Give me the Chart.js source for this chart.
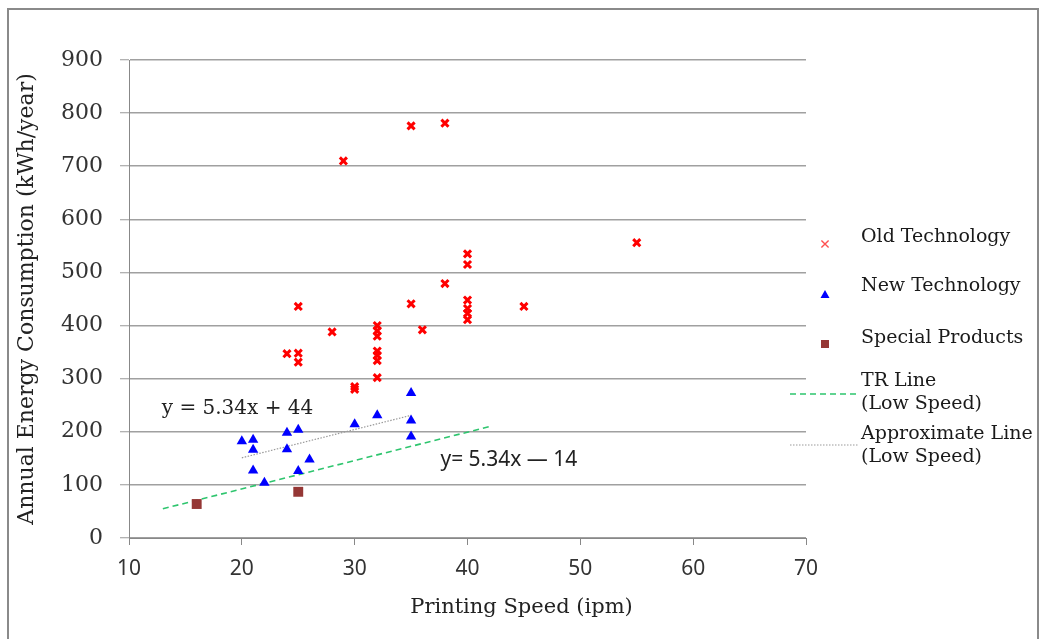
<!DOCTYPE html>
<html>
<head>
<meta charset="utf-8">
<script src="https://cdn.jsdelivr.net/npm/chart.js@4/dist/chart.umd.min.js"></script>
<style>
  html, body { margin: 0; padding: 0; background: #fff; }
  #wrap { position: relative; width: 1043px; height: 639px; overflow: hidden; }
  #frame { position: absolute; left: 7px; top: 8px; width: 1032px; height: 700px; border: 2px solid #8a8a8a; box-sizing: border-box; }
  canvas { position: absolute; left: 0; top: 0; }
</style>
</head>
<body>
<div id="wrap">
  <div id="frame"></div>
  <canvas id="c" width="1043" height="639"></canvas>
</div>
<script>
// ---- Data ----
const xTicks = [10, 20, 30, 40, 50, 60, 70];
const yTicks = [0, 100, 200, 300, 400, 500, 600, 700, 800, 900];

const oldTechSpeed = [29, 35, 38, 55, 40, 40, 38, 25, 35, 40, 40, 40, 40, 45, 28, 36, 24, 25, 25, 32, 32, 32, 32, 32, 32, 32, 30, 30];
const oldTechEnergy = [710, 776, 781, 556, 535, 515, 479, 436, 441, 448, 432, 423, 411, 436, 388, 392, 347, 348, 331, 400, 390, 380, 352, 344, 334, 302, 285, 280];

const newTechSpeed = [20, 21, 21, 21, 22, 24, 25, 24, 25, 26, 30, 32, 35, 35, 35];
const newTechEnergy = [182, 185, 166, 127, 104, 198, 204, 167, 126, 148, 214, 231, 273, 221, 191];

const specialSpeed = [16, 25];
const specialEnergy = [64, 87];

const trLineSpeed = [13, 42];
const trLineEnergy = [55, 210];

const approxLineSpeed = [20, 35];
const approxLineEnergy = [151, 231];

const seriesLabels = ['Old Technology', 'New Technology', 'Special Products', 'TR Line (Low Speed)', 'Approximate Line (Low Speed)'];
const legendLines = [['Old Technology'], ['New Technology'], ['Special Products'], ['TR Line', '(Low Speed)'], ['Approximate Line', '(Low Speed)']];

const equationTexts = ['y = 5.34x + 44', 'y= 5.34x \u2014 14'];
const equationAnchorX = [12.9, 37.6];
const equationAnchorY = [244, 146];

const xTitle = 'Printing Speed (ipm)';
const yTitle = 'Annual Energy Consumption (kWh/year)';

// ---- helpers ----
const pts = (xs, ys) => xs.map((x, i) => ({ x: x, y: ys[i] }));

const SERIF = "'DejaVu Serif', serif";
const SANS = "'Noto Sans', 'DejaVu Sans', sans-serif";

// Custom legend drawn at right side
const legendPlugin = {
  id: 'customLegend',
  afterDraw(chart) {
    const ctx = chart.ctx;
    const markerX = 825, textX = 861;
    const rows = [
      { marker: 244, text: [237] },
      { marker: 295, text: [286] },
      { marker: 344, text: [338] },
      { marker: 394, text: [381, 404] },
      { marker: 445, text: [434, 457] }
    ];
    ctx.save();
    ctx.font = '19px ' + SERIF;
    ctx.fillStyle = '#1a1a1a';
    ctx.textBaseline = 'middle';
    ctx.textAlign = 'left';
    rows.forEach((r, i) => {
      const ds = chart.data.datasets[i];
      legendLines[i].forEach((t, j) => ctx.fillText(t, textX, r.text[j]));
      const y = r.marker;
      ctx.save();
      if (ds.showLine) {
        ctx.strokeStyle = ds.borderColor;
        ctx.lineWidth = ds.borderWidth;
        ctx.setLineDash(ds.borderDash || []);
        ctx.beginPath();
        ctx.moveTo(790, y);
        ctx.lineTo(858, y);
        ctx.stroke();
      } else if (ds.pointStyle === 'crossRot') {
        ctx.strokeStyle = '#ff5050';
        ctx.lineWidth = 1.4;
        const s = 3.6;
        ctx.beginPath();
        ctx.moveTo(markerX - s, y - s); ctx.lineTo(markerX + s, y + s);
        ctx.moveTo(markerX + s, y - s); ctx.lineTo(markerX - s, y + s);
        ctx.stroke();
      } else if (ds.pointStyle === 'triangle') {
        ctx.fillStyle = ds.backgroundColor;
        ctx.beginPath();
        ctx.moveTo(markerX, y - 5);
        ctx.lineTo(markerX + 4.5, y + 3);
        ctx.lineTo(markerX - 4.5, y + 3);
        ctx.closePath();
        ctx.fill();
      } else if (ds.pointStyle === 'rect') {
        ctx.fillStyle = ds.backgroundColor;
        ctx.fillRect(markerX - 4, y - 4, 8, 8);
      }
      ctx.restore();
    });
    ctx.restore();
  }
};

// Equation labels placed through the chart scales
const equationPlugin = {
  id: 'equations',
  afterDatasetsDraw(chart) {
    const ctx = chart.ctx;
    const xs = chart.scales.x, ys = chart.scales.y;
    const fonts = ['20px ' + SERIF, '21px ' + SANS];
    ctx.save();
    ctx.fillStyle = '#222';
    ctx.textBaseline = 'middle';
    ctx.textAlign = 'left';
    equationTexts.forEach((t, i) => {
      ctx.font = fonts[i];
      ctx.fillText(t, xs.getPixelForValue(equationAnchorX[i]), ys.getPixelForValue(equationAnchorY[i]));
    });
    ctx.restore();
  }
};

const chart = new Chart(document.getElementById('c'), {
  type: 'scatter',
  data: {
    datasets: [
      {
        label: seriesLabels[0],
        data: pts(oldTechSpeed, oldTechEnergy),
        pointStyle: 'crossRot',
        pointRadius: 5,
        pointHoverRadius: 5,
        borderColor: '#ff0000',
        backgroundColor: '#ff0000',
        pointBorderWidth: 3,
        showLine: false
      },
      {
        label: seriesLabels[1],
        data: pts(newTechSpeed, newTechEnergy),
        pointStyle: 'triangle',
        pointRadius: 6,
        pointHoverRadius: 6,
        borderColor: '#0000ff',
        backgroundColor: '#0000ff',
        pointBorderWidth: 0,
        showLine: false
      },
      {
        label: seriesLabels[2],
        data: pts(specialSpeed, specialEnergy),
        pointStyle: 'rect',
        pointRadius: 7,
        pointHoverRadius: 7,
        borderColor: '#953735',
        backgroundColor: '#953735',
        pointBorderWidth: 0,
        showLine: false
      },
      {
        label: seriesLabels[3],
        data: pts(trLineSpeed, trLineEnergy),
        showLine: true,
        borderColor: '#2ec56e',
        borderWidth: 1.6,
        borderDash: [6, 4],
        pointRadius: 0,
        fill: false
      },
      {
        label: seriesLabels[4],
        data: pts(approxLineSpeed, approxLineEnergy),
        showLine: true,
        borderColor: '#9a9a9a',
        borderWidth: 1.2,
        borderDash: [1.5, 1.5],
        pointRadius: 0,
        fill: false
      }
    ]
  },
  options: {
    responsive: false,
    animation: false,
    devicePixelRatio: 1,
    layout: { padding: { top: 60, left: 0, right: 0, bottom: 0 } },
    plugins: {
      legend: { display: false },
      tooltip: { enabled: false },
      title: {
        display: true,
        position: 'bottom',
        text: xTitle,
        color: '#222',
        font: { family: SERIF, size: 21, weight: 'normal' },
        padding: { top: 0, bottom: 19 }
      }
    },
    scales: {
      x: {
        type: 'linear',
        min: xTicks[0],
        max: xTicks[xTicks.length - 1],
        afterBuildTicks(s) { s.ticks = xTicks.map(v => ({ value: v })); },
        afterFit(s) { s.height = 56.8; },
        grid: { display: true, drawOnChartArea: false, drawTicks: true, tickLength: 7, color: '#888', lineWidth: 1 },
        border: { display: true, color: '#888', width: 1 },
        ticks: { color: '#333', font: { family: SANS, size: 21 }, padding: 11 }
      },
      y: {
        type: 'linear',
        min: yTicks[0],
        max: yTicks[yTicks.length - 1],
        afterBuildTicks(s) { s.ticks = yTicks.map(v => ({ value: v })); },
        afterFit(s) { s.width = 129; },
        grid: { display: true, color: '#a0a0a0', lineWidth: 1.5, drawTicks: true, tickLength: 9, tickColor: '#999', tickWidth: 1 },
        border: { display: true, color: '#888', width: 1 },
        ticks: { color: '#333', font: { family: SERIF, size: 22 }, padding: 17 },
        title: {
          display: true,
          text: yTitle,
          color: '#222',
          font: { family: SERIF, size: 22, weight: 'normal' },
          padding: { top: 14, bottom: 0 }
        }
      },
      y2: {
        axis: 'y',
        type: 'linear',
        position: 'right',
        min: 0,
        max: 1,
        display: true,
        afterFit(s) { s.width = 237; },
        grid: { display: false, drawTicks: false },
        border: { display: false },
        ticks: { display: false }
      }
    }
  },
  plugins: [equationPlugin, legendPlugin]
});
</script>
</body>
</html>
